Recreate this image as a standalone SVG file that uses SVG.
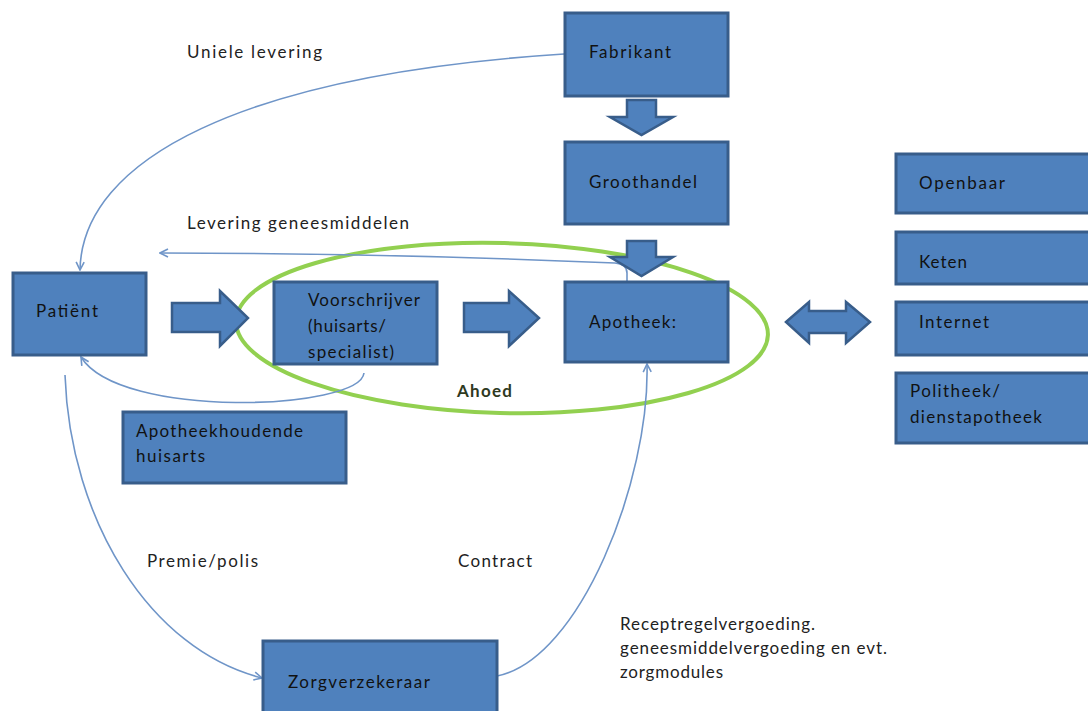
<svg xmlns="http://www.w3.org/2000/svg" width="1088" height="711" viewBox="0 0 1088 711">
<style>
.box{fill:#4f81bd;stroke:#385d8a;stroke-width:3}
.blk{fill:#4f81bd;stroke:#385d8a;stroke-width:2.5;stroke-linejoin:miter}
.t{font-family:Lato,"Liberation Sans",sans-serif;font-size:17px;fill:#111}
.l{font-family:Lato,"Liberation Sans",sans-serif;font-size:17px;fill:#222}
.c{fill:none;stroke:#6f95c8;stroke-width:1.6}
</style>
<defs>
<marker id="ah" viewBox="0 0 10 10" refX="9" refY="5" markerWidth="10" markerHeight="10" markerUnits="userSpaceOnUse" orient="auto">
<path d="M1,1 L9,5 L1,9" fill="none" stroke="#6f95c8" stroke-width="1.6"/>
</marker>
</defs>
<g id="ahoed">
<ellipse cx="502" cy="328" rx="266" ry="85" transform="rotate(1.5 502 328)" fill="none" stroke="#92d050" stroke-width="4"/>
<text x="457" y="397" font-family="Lato,'Liberation Sans',sans-serif" font-size="17" font-weight="bold" fill="#2f3a1f" textLength="55">Ahoed</text>
</g>
<g id="connectors">
<path class="c" d="M564,54 C 240,75 82,160 80,270" marker-end="url(#ah)"/>
<path class="c" d="M627,281 L627,273 Q627,264 615,263 C 450,256 300,253 160,253" marker-end="url(#ah)"/>
<path class="c" d="M364,373 C 360,410 120,420 81,357" marker-end="url(#ah)"/>
<path class="c" d="M65,375 C 70,520 150,650 262,678" marker-end="url(#ah)"/>
<path class="c" d="M497,676 C 580,660 650,480 647,364" marker-end="url(#ah)"/>
<polygon class="blk" points="627,100 656,100 656,117 673,117 641.5,135 610,117 627,117"/>
<polygon class="blk" points="627,241 656,241 656,257 673,257 641.5,276 610,257 627,257"/>
<polygon class="blk" points="172,303 220,303 220,291 248,318 220,346 220,332 172,332"/>
<polygon class="blk" points="464,303 509,303 509,291 539,318 509,346 509,332 464,332"/>
<polygon class="blk" points="786,322 809,302 809,311 846,311 846,302 870,322 846,343 846,333 809,333 809,343"/>
</g>
<g id="labels">
<text class="l" x="187" y="58" textLength="135">Uniele levering</text>
<text class="l" x="187" y="229" textLength="222">Levering geneesmiddelen</text>
<text class="l" x="147" y="567" textLength="111">Premie/polis</text>
<text class="l" x="458" y="567" textLength="74">Contract</text>
<text class="l" x="620" y="630" textLength="195">Receptregelvergoeding.</text>
<text class="l" x="620" y="654" textLength="267">geneesmiddelvergoeding en evt.</text>
<text class="l" x="620" y="678" textLength="103">zorgmodules</text>
</g>
<g id="fabrikant"><rect class="box" x="565" y="13" width="163" height="83"/><text class="t" x="589" y="58" textLength="82">Fabrikant</text></g>
<g id="groothandel"><rect class="box" x="565" y="142" width="163" height="82"/><text class="t" x="589" y="188" textLength="108">Groothandel</text></g>
<g id="apotheek"><rect class="box" x="565" y="282" width="163" height="80"/><text class="t" x="589" y="328" textLength="87">Apotheek:</text></g>
<g id="patient"><rect class="box" x="13" y="273" width="133" height="82"/><text class="t" x="36" y="317" textLength="62">Patiënt</text></g>
<g id="voorschrijver"><rect class="box" x="274" y="282" width="163" height="82"/>
<text class="t" x="308" y="306" textLength="112">Voorschrijver</text>
<text class="t" x="308" y="332" textLength="78">(huisarts/</text>
<text class="t" x="308" y="358" textLength="86">specialist)</text></g>
<g id="apotheekhoudende"><rect class="box" x="123" y="412" width="223" height="71"/>
<text class="t" x="136" y="437" textLength="167">Apotheekhoudende</text>
<text class="t" x="136" y="462" textLength="69">huisarts</text></g>
<g id="zorgverzekeraar"><rect class="box" x="263" y="641" width="234" height="75"/><text class="t" x="288" y="688" textLength="142">Zorgverzekeraar</text></g>
<g id="openbaar"><rect class="box" x="896" y="154" width="196" height="59"/><text class="t" x="919" y="189" textLength="86">Openbaar</text></g>
<g id="keten"><rect class="box" x="896" y="232" width="196" height="52"/><text class="t" x="919" y="268" textLength="48">Keten</text></g>
<g id="internet"><rect class="box" x="896" y="302" width="196" height="53"/><text class="t" x="919" y="328" textLength="70">Internet</text></g>
<g id="politheek"><rect class="box" x="896" y="373" width="196" height="70"/>
<text class="t" x="910" y="397" textLength="90">Politheek/</text>
<text class="t" x="910" y="423" textLength="132">dienstapotheek</text></g>
</svg>
